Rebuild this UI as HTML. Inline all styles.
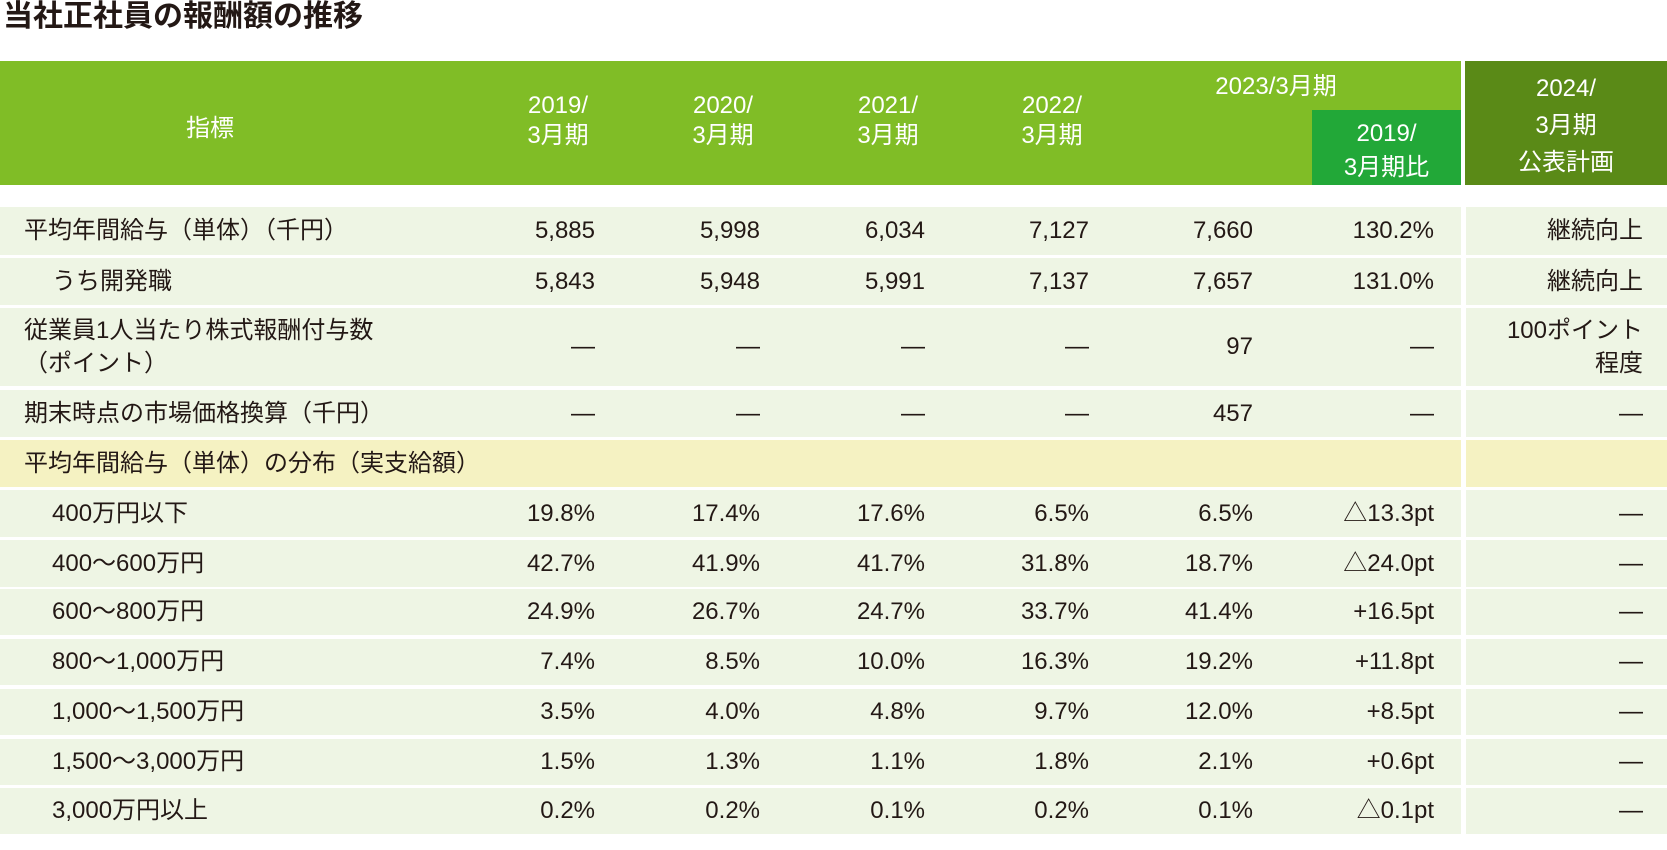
<!DOCTYPE html>
<html><head><meta charset="utf-8">
<style>
body{margin:0;width:1667px;height:850px;background:#fff;position:relative;overflow:hidden;font-family:"Liberation Sans","Noto Sans CJK JP",sans-serif;color:#231815}
.a{position:absolute}
.t{position:absolute;white-space:nowrap;font-size:24px;line-height:30px}
.h{color:#fff;font-size:24px;line-height:30px;text-align:center;position:absolute;white-space:nowrap}
</style></head><body>
<div class="a" style="left:3px;top:-2px;font-size:30px;font-weight:bold;line-height:38px;white-space:nowrap">当社正社員の報酬額の推移</div>
<div class="a" style="left:0;top:61px;width:1461px;height:124px;background:#80bd26"></div>
<div class="a" style="left:1312px;top:110px;width:149px;height:75px;background:#22a838"></div>
<div class="a" style="left:1465px;top:61px;width:202px;height:124px;background:#5a8a17"></div>
<div class="h" style="left:160px;width:100px;top:114px">指標</div>
<div class="h" style="left:508px;width:100px;top:91px">2019/<br>3月期</div>
<div class="h" style="left:673px;width:100px;top:91px">2020/<br>3月期</div>
<div class="h" style="left:838px;width:100px;top:91px">2021/<br>3月期</div>
<div class="h" style="left:1002px;width:100px;top:91px">2022/<br>3月期</div>
<div class="h" style="left:1196px;width:160px;top:72px">2023/3月期</div>
<div class="h" style="left:1312px;width:149px;top:117px;line-height:34px">2019/<br>3月期比</div>
<div class="h" style="left:1465px;width:202px;top:70px;line-height:37px">2024/<br>3月期<br>公表計画</div>
<div id="rows"></div>
<script>
const labels=["平均年間給与（単体）（千円）","うち開発職","従業員1人当たり株式報酬付与数<br>（ポイント）","期末時点の市場価格換算（千円）","平均年間給与（単体）の分布（実支給額）","400万円以下","400～600万円","600～800万円","800～1,000万円","1,000～1,500万円","1,500～3,000万円","3,000万円以上"];
const col2019=["5,885","5,843","—","—","","19.8%","42.7%","24.9%","7.4%","3.5%","1.5%","0.2%"];
const col2020=["5,998","5,948","—","—","","17.4%","41.9%","26.7%","8.5%","4.0%","1.3%","0.2%"];
const col2021=["6,034","5,991","—","—","","17.6%","41.7%","24.7%","10.0%","4.8%","1.1%","0.1%"];
const col2022=["7,127","7,137","—","—","","6.5%","31.8%","33.7%","16.3%","9.7%","1.8%","0.2%"];
const col2023=["7,660","7,657","97","457","","6.5%","18.7%","41.4%","19.2%","12.0%","2.1%","0.1%"];
const colRatio=["130.2%","131.0%","—","—","","△13.3pt","△24.0pt","+16.5pt","+11.8pt","+8.5pt","+0.6pt","△0.1pt"];
const colPlan=["継続向上","継続向上","100ポイント<br>程度","—","","—","—","—","—","—","—","—"];
const cols=[col2019,col2020,col2021,col2022,col2023,colRatio];
const colRight=[595,760,925,1089,1253,1434];
const colNames=["2019","2020","2021","2022","2023","vs2019"];
const tops=[207,258,308,390,440,490,540,589,639,689,739,788];
const hts=[48,47,78,47,47,47,47,46,46,46,46,46];
const wrap=document.getElementById('rows');
for(let i=0;i<labels.length;i++){
  const top=tops[i],h=hts[i],yellow=i===4;
  const bg=document.createElement('div');
  bg.className='a';
  
  
  bg.style.cssText=`left:0;top:${top}px;width:1461px;height:${h}px;background:${yellow?'#f5f2c2':'#eef5e4'}`;
  wrap.appendChild(bg);
  const bg2=document.createElement('div');
  bg2.className='a';
  
  
  bg2.style.cssText=`left:1466px;top:${top}px;width:201px;height:${h}px;background:${yellow?'#f5f2c2':'#eef5e4'}`;
  wrap.appendChild(bg2);
  const lb=document.createElement('div');
  lb.className='t';
  
  
  const ind=(i===1||i>=5)?52:24;
  const two=labels[i].includes('<br>');
  lb.style.left=ind+'px';
  lb.style.top=(two?top+6:top+(h-30)/2)+'px';
  lb.style.lineHeight=two?'33px':'30px';
  lb.innerHTML=labels[i];
  wrap.appendChild(lb);
  for(let c=0;c<cols.length;c++){
    const v=document.createElement('div');
    v.className='t';
    
    
    v.style.right=(1667-colRight[c])+'px';
    v.style.top=(top+(h-30)/2)+'px';
    v.textContent=cols[c][i];
    wrap.appendChild(v);
  }
  const p=document.createElement('div');
  p.className='t';
  
  
  const ptwo=colPlan[i].includes('<br>');
  p.style.right='24px';
  p.style.textAlign='right';
  p.style.lineHeight=ptwo?'33px':'30px';
  p.style.top=(ptwo?top+6:top+(h-30)/2)+'px';
  p.innerHTML=colPlan[i];
  wrap.appendChild(p);
}
</script>
</body></html>
